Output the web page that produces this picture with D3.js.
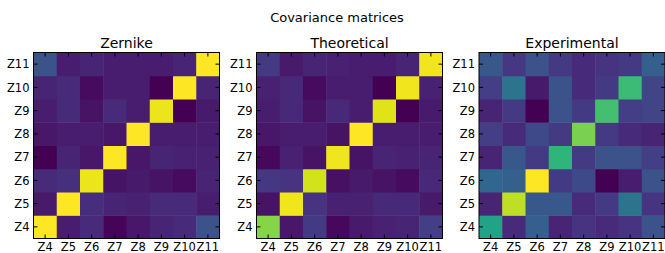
<!DOCTYPE html>
<html>
<head>
<meta charset="utf-8">
<script src="https://cdn.jsdelivr.net/npm/d3@7"></script>
<style>
  body { margin: 0; background: #fff; }
  text { font-family: "DejaVu Sans", sans-serif; fill: #000; }
</style>
</head>
<body>
<svg id="chart" width="665" height="253"></svg>
<script>
var labels = ["Z4", "Z5", "Z6", "Z7", "Z8", "Z9", "Z10", "Z11"];

// rows go Z4 (bottom) .. Z11 (top), columns Z4 .. Z11
var zernike = [
    [1.00, 0.08, 0.12, 0.01, 0.06, 0.10, 0.12, 0.25],
    [0.07, 1.00, 0.13, 0.10, 0.09, 0.12, 0.12, 0.08],
    [0.12, 0.14, 0.97, 0.05, 0.07, 0.05, 0.03, 0.10],
    [0.00, 0.10, 0.06, 1.00, 0.06, 0.10, 0.09, 0.09],
    [0.06, 0.08, 0.08, 0.06, 1.00, 0.08, 0.08, 0.08],
    [0.08, 0.12, 0.05, 0.12, 0.08, 0.97, 0.00, 0.07],
    [0.10, 0.12, 0.03, 0.08, 0.08, 0.00, 1.00, 0.10],
    [0.25, 0.08, 0.10, 0.08, 0.08, 0.08, 0.10, 1.00]
];

var theoretical = [
    [0.82, 0.06, 0.17, 0.02, 0.07, 0.09, 0.10, 0.18],
    [0.05, 0.98, 0.15, 0.09, 0.09, 0.11, 0.11, 0.07],
    [0.16, 0.15, 0.93, 0.04, 0.07, 0.05, 0.03, 0.11],
    [0.02, 0.09, 0.05, 0.98, 0.05, 0.10, 0.09, 0.10],
    [0.06, 0.08, 0.08, 0.05, 1.00, 0.08, 0.08, 0.08],
    [0.08, 0.11, 0.05, 0.11, 0.08, 0.95, 0.00, 0.07],
    [0.09, 0.11, 0.03, 0.08, 0.08, 0.00, 0.98, 0.09],
    [0.17, 0.07, 0.10, 0.09, 0.08, 0.08, 0.10, 0.98]
];

var experimental = [
    [0.58, 0.12, 0.30, 0.10, 0.15, 0.12, 0.15, 0.25],
    [0.10, 0.90, 0.27, 0.27, 0.12, 0.17, 0.38, 0.15],
    [0.33, 0.30, 1.00, 0.17, 0.22, 0.00, 0.08, 0.25],
    [0.10, 0.27, 0.17, 0.65, 0.17, 0.25, 0.25, 0.18],
    [0.18, 0.12, 0.22, 0.17, 0.80, 0.17, 0.12, 0.10],
    [0.10, 0.17, 0.00, 0.25, 0.17, 0.70, 0.18, 0.20],
    [0.18, 0.38, 0.07, 0.25, 0.12, 0.17, 0.68, 0.20],
    [0.27, 0.16, 0.25, 0.17, 0.12, 0.15, 0.17, 0.30]
];

var panelTitles = ["Zernike", "Theoretical", "Experimental"];
var matrices = [zernike, theoretical, experimental];

var svg = d3.select("#chart");
var size = 186, plotTop = 52.5, lefts = [33.5, 256.5, 479];

svg.append("text")
    .attr("x", 337).attr("y", 22)
    .attr("text-anchor", "middle")
    .style("font-size", "13px")
    .text("Covariance matrices");

matrices.forEach(function(m, p) {
    var g = svg.append("g").attr("transform", "translate(" + lefts[p] + "," + plotTop + ")");

    var x = d3.scaleBand().domain(labels).range([0, size]);
    var y = d3.scaleBand().domain(labels.slice().reverse()).range([0, size]);
    var flat = [];
    m.forEach(function(row, i) {
        row.forEach(function(v, j) { flat.push({ r: labels[i], c: labels[j], v: v }); });
    });
    var color = d3.scaleSequential(d3.interpolateViridis).domain(d3.extent(flat, function(d) { return d.v; }));

    g.selectAll("rect.cell")
        .data(flat)
        .enter().append("rect")
        .attr("class", "cell")
        .attr("x", function(d) { return x(d.c); })
        .attr("y", function(d) { return y(d.r); })
        .attr("width", x.bandwidth() + 0.5)
        .attr("height", y.bandwidth() + 0.5)
        .attr("fill", function(d) { return color(d.v); });

    // inward ticks on all four sides
    var tick = 4;
    labels.forEach(function(l) {
        var cx = x(l) + x.bandwidth() / 2, cy = y(l) + y.bandwidth() / 2;
        g.append("line").attr("x1", cx).attr("x2", cx).attr("y1", size).attr("y2", size - tick);
        g.append("line").attr("x1", cx).attr("x2", cx).attr("y1", 0).attr("y2", tick);
        g.append("line").attr("y1", cy).attr("y2", cy).attr("x1", 0).attr("x2", tick);
        g.append("line").attr("y1", cy).attr("y2", cy).attr("x1", size).attr("x2", size - tick);
        g.append("text")
            .attr("x", cx).attr("y", size + 12.5)
            .attr("text-anchor", "middle")
            .style("font-size", "11.5px")
            .text(l);
        g.append("text")
            .attr("x", -4).attr("y", cy)
            .attr("dy", "0.36em")
            .attr("text-anchor", "end")
            .style("font-size", "11.5px")
            .text(l);
    });
    g.selectAll("line").attr("stroke", "#000").attr("stroke-width", 1);

    g.append("rect")
        .attr("width", size).attr("height", size)
        .attr("fill", "none").attr("stroke", "#000").attr("stroke-width", 1);

    g.append("text")
        .attr("x", size / 2).attr("y", -5)
        .attr("text-anchor", "middle")
        .style("font-size", "14px")
        .text(panelTitles[p]);
});
</script>
</body>
</html>
